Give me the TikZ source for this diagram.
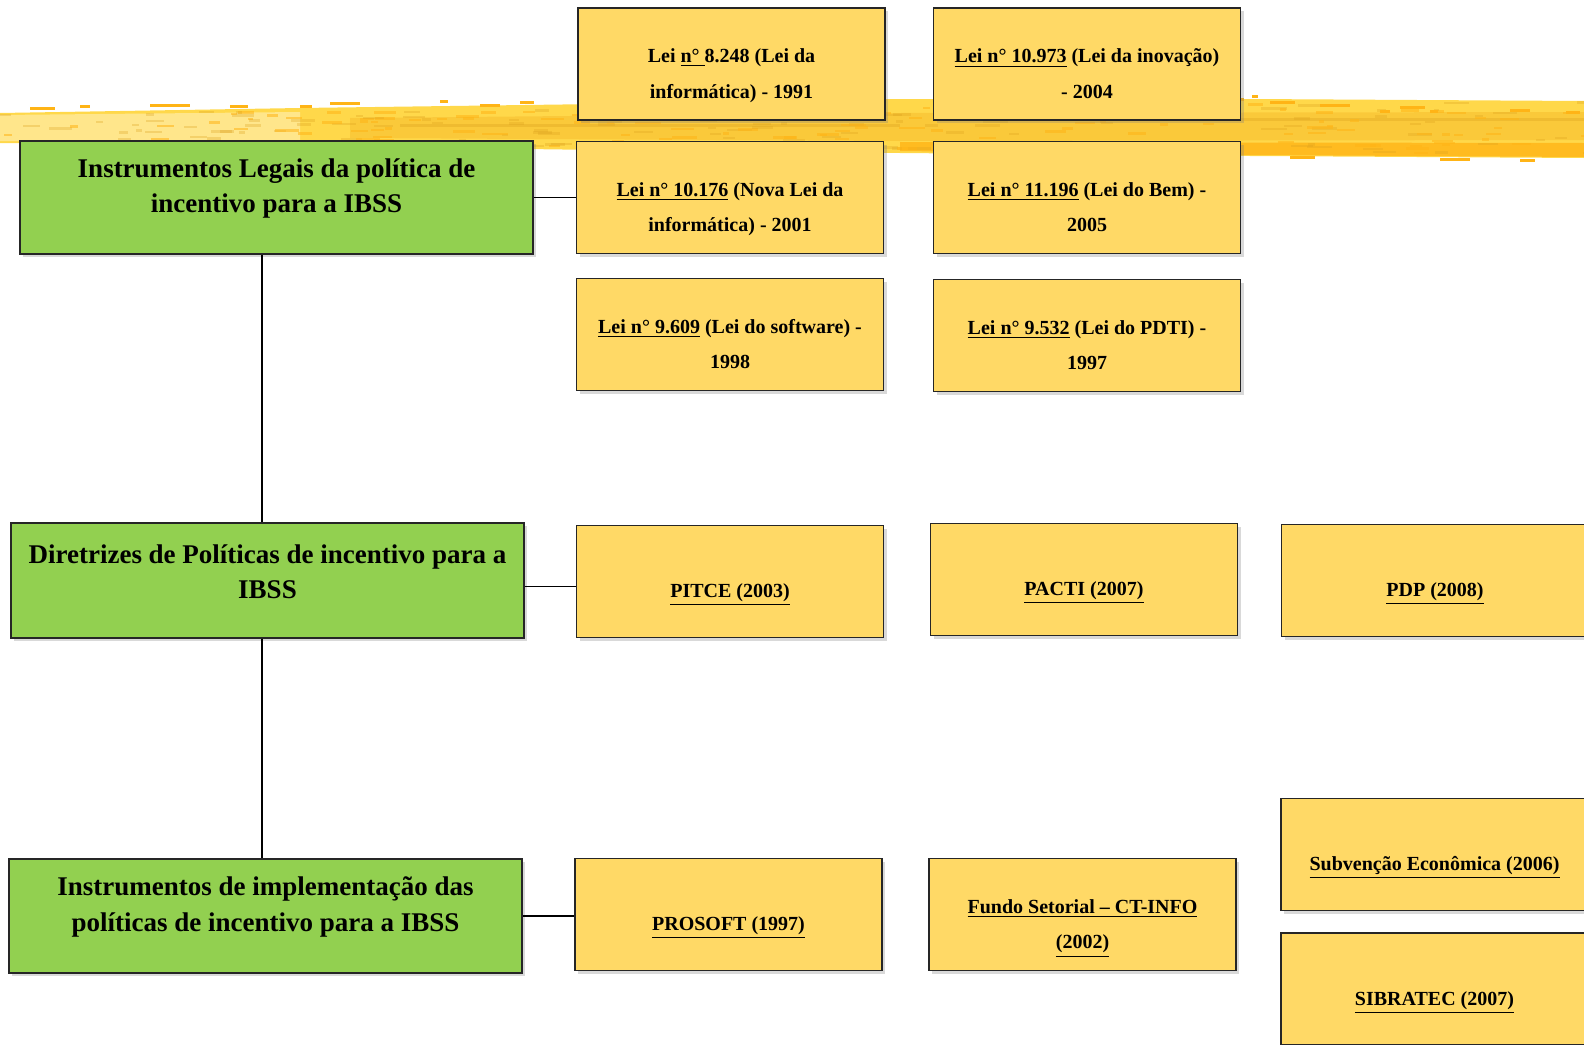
\documentclass[tikz,border=0pt]{standalone}
\usepackage{fontspec}
\setmainfont{Liberation Serif}
\usetikzlibrary{shadows}

\definecolor{boxgreen}{HTML}{92D050}
\definecolor{boxgold}{HTML}{FFD966}
\definecolor{brushA}{HTML}{FFD84A}
\definecolor{brushB}{HTML}{F6BC2C}
\definecolor{brushC}{HTML}{DDA21E}
\definecolor{brushD}{HTML}{FFB416}

\tikzset{
  box/.style={draw=black!85, line width=0.6pt, rectangle, inner sep=0pt,
    drop shadow={shadow xshift=1.5pt, shadow yshift=-1.5pt, opacity=0.3}},
  mainbox/.style={box, fill=boxgreen, minimum width=256.5pt, minimum height=57pt},
  leibox/.style={box, fill=boxgold, minimum width=153.5pt, minimum height=56pt},
  maintxt/.style={font=\fontsize{13.5}{17.7}\selectfont\bfseries, align=center, yshift=4.5pt},
  leitxt/.style={font=\fontsize{10}{17.7}\selectfont\bfseries, align=center, yshift=-4.5pt,
    execute at begin node=\strut, execute at end node=\strut},
  leitwo/.style={leitxt, yshift=-3pt},
  link/.style={draw=black, line width=0.7pt}
}

\begin{document}
\begin{tikzpicture}[x=0.5pt,y=-0.5pt]
				%%%%% START %%%%%
				\def\colA{730}
				\def\colB{1087}
				\def\colC{1435}
				\def\rowA{64}
				\def\rowB{197.5}
				\def\rowC{334.5}
				\def\rowD{580.5}
				\def\rowE{914.5}
				\def\spine{262}

				\clip (0,0) rectangle (1584,1044);

				% brush stroke behind the top rows
				\fill[brushA] (0,113) -- (300,108) -- (600,104) -- (900,99) -- (1250,99) -- (1584,101)
				  -- (1584,158) -- (1250,156) -- (900,153) -- (600,150) -- (300,146) -- (0,143) -- cycle;
				\fill[brushA!55!white, opacity=0.8] (0,115) -- (300,112) -- (300,142) -- (0,141) -- cycle;
				\fill[brushB, opacity=0.5] (350,118) -- (900,113) -- (1584,112) -- (1584,140) -- (900,141) -- (350,138) -- cycle;
				\fill[brushD, opacity=0.8] (900,142) -- (1584,143) -- (1584,157) -- (1250,155) -- (900,151) -- cycle;
				\fill[brushC, opacity=0.35] (400,124) rectangle (900,127);
				\fill[brushC, opacity=0.35] (1000,118) rectangle (1584,121);
				\pgfmathsetseed{12}
				\foreach \i in {1,...,260}{
				  \pgfmathsetmacro{\rx}{random(0,1584)}
				  \pgfmathsetmacro{\rf}{\rx/1584}
				  \pgfmathsetmacro{\ry}{112-12*\rf+rnd*(30+24*\rf)}
				  \pgfmathsetmacro{\rw}{4+rnd*22}
				  \ifodd\i
				    \fill[brushD, opacity=0.55] (\rx,\ry) rectangle ++(\rw,2.5);
				  \else
				    \fill[brushC, opacity=0.3] (\rx,\ry) rectangle ++(\rw,2.5);
				  \fi
				}
				\foreach \x/\y/\w in {30/107/25, 80/105/10, 150/104/40, 230/105/18, 300/105/12, 330/102/30,
				  440/100/8, 480/104/20, 520/101/14, 600/101/18, 660/101/10, 1232/98/12, 1252/95/6,
				  1270/101/25, 1320/104/30, 1380/110/10, 1400/106/25, 1430/110/8, 1510/109/20,
				  1566/111/14, 1290/156/25, 1440/158/30, 1520/159/15}
				  \fill[brushD] (\x,\y) rectangle ++(\w,2.5);

				% green column
				\node[mainbox, minimum height=56.5pt, label={[maintxt]center:{Instrumentos Legais da política de\\incentivo para a IBSS}}] (legais) at (276.5,\rowB) {};
				\node[mainbox, minimum height=57.5pt, label={[maintxt]center:{Diretrizes de Políticas de incentivo para a\\IBSS}}] (diretrizes) at (267.5,\rowD) {};
				\node[mainbox, label={[maintxt]center:{Instrumentos de implementação das\\políticas de incentivo para a IBSS}}] (implem) at (265.5,916) {};

				% leis
				\node[leibox, label={[leitwo]center:{Lei \underline{n° }8.248 (Lei da\\informática) - 1991}}] (l8248) at (731.5,\rowA) {};
				\node[leibox, label={[leitwo]center:{\underline{Lei n° 10.973} (Lei da inovação)\\- 2004}}] (l10973) at (\colB,\rowA) {};
				\node[leibox, label={[leitwo]center:{\underline{Lei n° 10.176} (Nova Lei da\\informática) - 2001}}] (l10176) at (\colA,\rowB) {};
				\node[leibox, label={[leitwo]center:{\underline{Lei n° 11.196} (Lei do Bem) -\\2005}}] (l11196) at (\colB,\rowB) {};
				\node[leibox, label={[leitwo]center:{\underline{Lei n° 9.609} (Lei do software) -\\1998}}] (l9609) at (\colA,\rowC) {};
				\node[leibox, label={[leitwo]center:{\underline{Lei n° 9.532} (Lei do PDTI) -\\1997}}] (l9532) at (\colB,\rowC+1) {};

				% diretrizes
				\node[leibox, label={[leitxt]center:{\underline{PITCE (2003)}}}] (pitce) at (\colA,\rowD+1) {};
				\node[leibox, label={[leitxt]center:{\underline{PACTI (2007)}}}] (pacti) at (1084,\rowD-1) {};
				\node[leibox, label={[leitxt]center:{\underline{PDP (2008)}}}] (pdp) at (\colC,\rowD) {};

				% instrumentos
				\node[leibox, label={[leitxt]center:{\underline{PROSOFT (1997)}}}] (prosoft) at (728.5,\rowE) {};
				\node[leibox, label={[leitwo]center:{\underline{Fundo Setorial – CT-INFO}\\\underline{(2002)}}}] (ctinfo) at (1082.5,\rowE) {};
				\node[leibox, label={[leitxt]center:{\underline{Subvenção Econômica (2006)}}}] (subvencao) at (1434.5,854.5) {};
				\node[leibox, label={[leitxt]center:{\underline{SIBRATEC (2007)}}}] (sibratec) at (1434.5,989) {};

				% ligacoes
				\coordinate (sp) at (\spine,0);
				\coordinate (dirout) at ([yshift=-3pt]diretrizes.east);
				\draw[link] (legais.south -| sp) -- (diretrizes.north -| sp);
				\draw[link] (diretrizes.south -| sp) -- (implem.north -| sp);
				\draw[link] (legais.east) -- (l10176.west);
				\draw[link] (dirout) -- (pitce.west |- dirout);
				\draw[link] (implem.east) -- (prosoft.west |- implem.east);
				%%%%% START %%%%%
\end{tikzpicture}
\end{document}
